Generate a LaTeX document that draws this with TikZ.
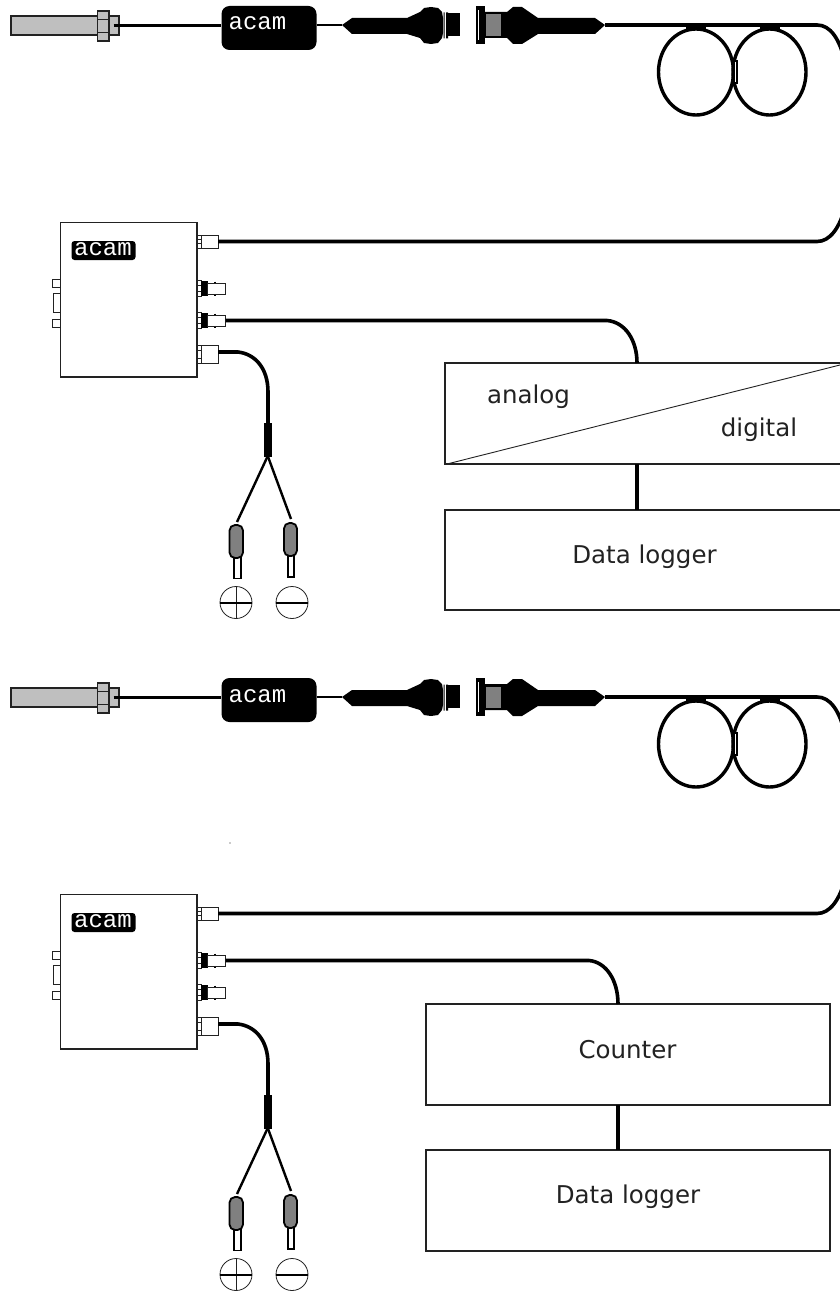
\documentclass[tikz,border=0pt]{standalone}
\usepackage{fontspec}
\setmainfont{DejaVu Sans}
\newfontfamily\logofont{Liberation Mono}
\usetikzlibrary{calc,shapes.geometric}
\definecolor{ink}{HTML}{222222}
\definecolor{barrel}{HTML}{BFBFBF}
\definecolor{darkgray}{HTML}{808080}
\tikzset{
  cable/.style={line width=3.6pt,black},
  wire/.style={line width=2.4pt,black},
  thin part/.style={draw=ink,line width=1pt,fill=white},
  frame/.style={draw=ink,line width=1.1pt,fill=white},
  sensorpart/.style={draw=ink,line width=1.2pt,fill=barrel},
  solid black/.style={fill=black,draw=black},
  label/.style={font=\fontsize{24.5}{28}\selectfont,text=ink,inner sep=0pt,anchor=base},
  logotext/.style={font=\logofont\fontsize{24}{26}\selectfont,text=white,inner sep=0pt,anchor=base},
  plugbody/.style={fill=darkgray,draw=black,line width=1.8pt,rounded corners=5.5pt},
  pinpart/.style={fill=white,draw=black,line width=1.6pt},
  sign/.style={draw=ink,line width=.8pt,fill=white,circle,inner sep=0pt,minimum size=32pt},
}
% \rectnode{name}{x0}{y0}{x1}{y1}{style}
\newcommand{\rectnode}[6]{%
  \pgfmathsetmacro{\rw}{(#4)-(#2)}\pgfmathsetmacro{\rh}{(#5)-(#3)}%
  \pgfmathsetmacro{\rx}{((#2)+(#4))/2}\pgfmathsetmacro{\ry}{((#3)+(#5))/2}%
  \node[rectangle,inner sep=0pt,outer sep=0pt,minimum width=\rw pt,minimum height=\rh pt,#6] (#1) at (\rx,\ry) {};%
}
% BNC socket centred on height #2
\newcommand{\bncsocket}[2]{%
  \rectnode{#1f}{197}{#2-8}{201}{#2+8}{thin part}
  \draw[ink,line width=.8pt] (197,#2-3) -- (201,#2-3) (197,#2+3) -- (201,#2+3);
  \rectnode{#1k}{201}{#2-7}{207}{#2+7}{solid black}
  \draw[black,line width=1.5pt] (215,#2-7) -- (215,#2+7);
  \rectnode{#1}{207}{#2-5.5}{225.5}{#2+5.5}{thin part}
}
% the whole sensor, cable and controller group
\newcommand{\assembly}[1]{%
  % sensor
  \rectnode{#1barrel}{11}{16}{98}{35}{sensorpart}
  \rectnode{#1tip}{108}{16}{119}{35}{sensorpart}
  \rectnode{#1nut}{97.5}{11}{109}{41}{sensorpart}
  \draw[ink,line width=1.2pt] (97.5,19.5) -- (109,19.5) (97.5,32.5) -- (109,32.5);
  % head with the brand name
  \node[rectangle,fill=black,rounded corners=8pt,inner sep=0pt,minimum width=95pt,minimum height=44pt] (#1head) at (269,28) {};
  \node[logotext] (#1headtext) at (257.5,30) {acam};
  % plug on the sensor side
  \fill[black] (342,25) -- (352,18) -- (407,18) -- (420,12) -- (424,8) -- (431,7) -- (438,8) -- (442,12) -- (443,18)
    -- (443,33) -- (442,38) -- (438,43) -- (431,44) -- (424,43) -- (420,38) -- (407,34) -- (352,34) -- cycle;
  \coordinate (#1plug) at (342,25);
  \fill[black] (443.5,12.5) rectangle (444.5,38.5) (446,12.5) rectangle (448,38.5);
  \fill[black] (448,13) rectangle (460,36);
  % socket on the cable side
  \fill[black] (476,6) rectangle (485,44);
  \fill[white] (478.2,10) rectangle (479.4,40);
  \fill[black] (485,12) -- (507,12) -- (513,7) -- (522,7) -- (538,18) -- (595,18) -- (605,25) -- (595,34) -- (538,34)
    -- (522,44) -- (513,44) -- (507,38) -- (485,38) -- cycle;
  \fill[darkgray] (486,14.5) rectangle (501,36);
  \coordinate (#1sock) at (605,25);
  % cables of the top row
  \draw[cable] (#1tip.center) -- (#1tip.center -| #1head.west);
  \draw[line width=2.8pt] (#1plug -| #1head.east) -- (#1plug);
  \coordinate (#1edgeA) at (846,66);
  \draw[cable] (#1sock) -- (817,25) .. controls (830,25) and (840,38) .. (#1edgeA);
  % cable loops
  \node[draw=black,line width=3.4pt,ellipse,inner sep=0pt,minimum width=75pt,minimum height=86pt] (#1loopA) at (696,72) {};
  \node[draw=black,line width=3.4pt,ellipse,inner sep=0pt,minimum width=73pt,minimum height=86pt] (#1loopB) at (769.5,72) {};
  \draw[black,line width=6pt] (735.3,60) -- (735.3,84);
  \draw[white,line width=1.4pt] (735.3,62) -- (735.3,82);
  \draw[black,line width=4pt] (686,27) -- (706,27) (760,27) -- (780,27);
  % controller
  \rectnode{#1slotA}{52}{279}{60}{287}{thin part}
  \rectnode{#1slotB}{53.5}{293.5}{60}{312}{thin part}
  \rectnode{#1slotC}{52}{319}{60}{327}{thin part}
  \rectnode{#1ctrl}{60.3}{222.5}{197}{377}{frame}
  \node[rectangle,fill=black,rounded corners=3pt,inner sep=0pt,minimum width=64pt,minimum height=19pt] (#1logo) at (103.5,250.5) {};
  \node[logotext] (#1logotext) at (103,255.5) {acam};
  % output plug
  \rectnode{#1out}{197}{235}{218}{248}{thin part}
  \draw[ink,line width=.8pt] (201,235) -- (201,248) (197,239.5) -- (201,239.5) (197,243.5) -- (201,243.5);
  \coordinate (#1edgeB) at (846,204);
  \draw[cable] (#1out.east) -- (817,241.5) .. controls (830,241.5) and (840,228) .. (#1edgeB);
  % BNC sockets
  \bncsocket{#1bncA}{288.5}
  \bncsocket{#1bncB}{320.5}
  % power plug
  \rectnode{#1pow}{197}{345}{218}{363}{thin part}
  \draw[ink,line width=.8pt] (201,345) -- (201,363) (197,350) -- (201,350) (197,358) -- (201,358);
  % power cable
  \rectnode{#1split}{264.5}{423}{271}{456}{solid black}
  \draw[cable] (218,352) -- (238,352) .. controls (255,354) and (268,368) .. (268,392) -- (268,423);
  % banana plugs
  \coordinate (#1wireA) at (237,522);
  \coordinate (#1wireB) at (291,519);
  \draw[wire] (#1split.south) -- (#1wireA);
  \draw[wire] (#1split.south) -- (#1wireB);
  \rectnode{#1pinA}{234}{556}{241}{578.5}{pinpart}
  \rectnode{#1pinB}{288}{554}{294}{577}{pinpart}
  \rectnode{#1bodyA}{229.5}{525}{243}{558}{plugbody}
  \rectnode{#1bodyB}{284}{523}{297}{556}{plugbody}
  \node[sign] (#1plus) at (236,602.5) {};
  \node[sign] (#1minus) at (292,602.5) {};
  \draw[ink,line width=1pt] (#1plus.north) -- (#1plus.south);
  \draw[black,line width=2pt] (#1plus.west) -- (#1plus.east);
  \draw[black,line width=2pt] (#1minus.west) -- (#1minus.east);
}
\begin{document}
\begin{tikzpicture}[x=1pt,y=-1pt]
\useasboundingbox (0,0) rectangle (840,1295);
\clip (0,0) rectangle (840,1295);
\fill[white] (0,0) rectangle (840,1295);

% upper arrangement
\assembly{u}
\rectnode{adc}{445}{363}{845}{464}{frame}
\rectnode{ulog}{445}{510}{845}{610}{frame}
\coordinate (adcA) at (447,464);
\coordinate (adcB) at (840,365);
\draw[ink,line width=.9pt] (adcA) -- (adcB);
\node[label] (analog) at (528.5,403) {analog};
\node[label] (digital) at (759,436) {digital};
\node[label] (ulogtext) at (644.5,563) {Data logger};
\coordinate (adcin) at (637,363);
\draw[cable] (ubncB.east) -- (607,320.5) .. controls (625,322) and (637,340) .. (adcin);
\draw[line width=4pt] (adcin |- adc.south) -- (adcin |- ulog.north);

% lower arrangement
\begin{scope}[shift={(0,672)}]
\assembly{l}
\end{scope}
\rectnode{count}{426}{1004}{830}{1105}{frame}
\rectnode{llog}{426}{1150}{830}{1251}{frame}
\node[label] (counttext) at (627.5,1058) {Counter};
\node[label] (llogtext) at (628,1203) {Data logger};
\coordinate (countin) at (618,1004);
\draw[cable] (lbncA.east) -- (589,960.5) .. controls (606,962) and (618,980) .. (countin);
\draw[line width=4pt] (countin |- count.south) -- (countin |- llog.north);
\fill[ink] (230,843) circle (.6);
\end{tikzpicture}
\end{document}
